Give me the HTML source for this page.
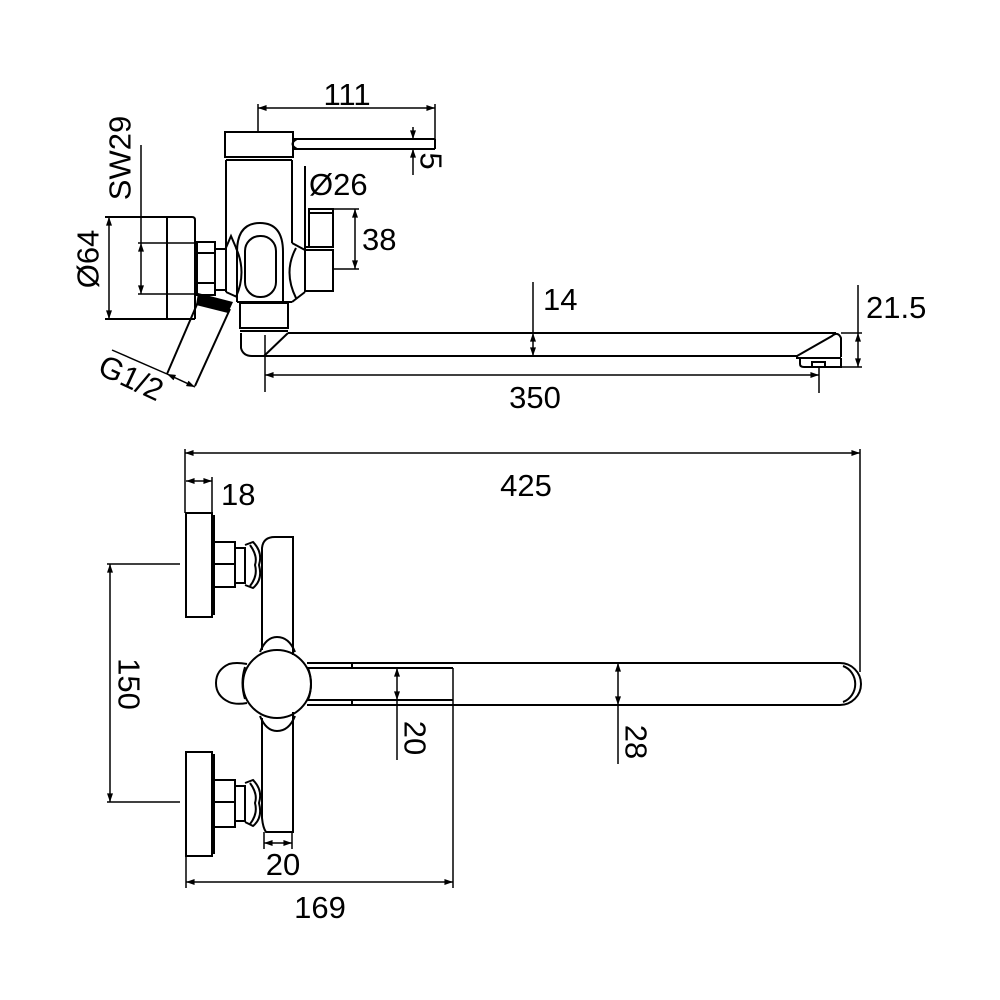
<!DOCTYPE html>
<html><head><meta charset="utf-8"><style>
html,body{margin:0;padding:0;background:#fff;}
svg{display:block;}
text{font-family:"Liberation Sans",Arial,sans-serif;font-size:31px;fill:#000;}
</style></head><body>
<svg width="1000" height="1000" viewBox="0 0 1000 1000" xmlns="http://www.w3.org/2000/svg">
<defs>
<marker id="a" viewBox="0 0 10 7" refX="10" refY="3.5" markerWidth="9" markerHeight="6" markerUnits="userSpaceOnUse" orient="auto-start-reverse">
<path d="M0,0 L10,3.5 L0,7 z" fill="#000"/>
</marker>
</defs>
<rect width="1000" height="1000" fill="#fff"/>

<!-- ============ TOP (SIDE) VIEW ============ -->
<g fill="none" stroke="#000" stroke-width="2">
  <!-- handle cap -->
  <rect x="225" y="132" width="68" height="25"/>
  <line x1="226" y1="160" x2="292" y2="160"/>
  <!-- lever -->
  <line x1="293" y1="139" x2="435" y2="139"/>
  <line x1="293" y1="149" x2="435" y2="149"/>
  <line x1="435" y1="139" x2="435" y2="149"/>
  <path d="M297,139 Q288,144 297,149"/>
  <!-- body -->
  <line x1="226" y1="160" x2="226" y2="248"/>
  <line x1="292" y1="160" x2="292" y2="243"/>
  <!-- oval -->
  <path d="M237,302 L237,252 Q237,223 260,223 Q283,223 283,252 L283,302"/>
  <rect x="245" y="236" width="31" height="61" rx="15"/>
  <line x1="237" y1="302" x2="292" y2="302"/>
  <!-- left ornament -->
  <path d="M225,250 L231,236 L237,250"/>
  <path d="M236,248 Q247,272 236,297"/>
  <line x1="226" y1="250" x2="226" y2="292"/>
  <line x1="226" y1="292" x2="237" y2="297"/>
  <!-- right ornament -->
  <path d="M292,243 L305,250"/>
  <path d="M296,248 Q283,272 296,298"/>
  <line x1="292" y1="302" x2="305" y2="292"/>
  <!-- valve -->
  <line x1="305" y1="166" x2="305" y2="292"/>
  <rect x="309" y="209" width="24" height="38"/>
  <line x1="309" y1="213" x2="333" y2="213"/>
  <rect x="305" y="250" width="28" height="41"/>
  <line x1="305" y1="247" x2="333" y2="247"/>
  <!-- small pieces left -->
  <rect x="215" y="249" width="11" height="41"/>
  <!-- nut -->
  <rect x="197" y="242" width="18" height="53"/>
  <line x1="197" y1="253" x2="215" y2="253"/>
  <line x1="197" y1="283" x2="215" y2="283"/>
  <!-- escutcheon -->
  <line x1="105" y1="217" x2="192" y2="217"/>
  <line x1="105" y1="319" x2="195" y2="319"/>
  <path d="M192,217 Q195,217 195,220 L195,319"/>
  <line x1="167" y1="217" x2="167" y2="319"/>
  <!-- G1/2 pipe -->
  <line x1="198" y1="302" x2="167" y2="374"/>
  <line x1="230" y1="309" x2="195" y2="386"/>
  <!-- outlet -->
  <rect x="240" y="303" width="48" height="25"/>
  <line x1="240" y1="331" x2="288" y2="331"/>
  <path d="M241,333 L241,348 Q243,356 252,356 L265,356"/>
  <line x1="264" y1="356" x2="288" y2="333"/>
  <!-- spout -->
  <line x1="288" y1="333" x2="836" y2="333"/>
  <line x1="264" y1="356" x2="798" y2="356"/>
  <path d="M797,356 L832,336 Q838,331 841,338 L841,357"/>
  <path d="M797,356 L797,358 L841,358"/>
  <path d="M800,358 L800,364 Q800,367 804,367 L841,367 L841,358"/>
  <rect x="812" y="362" width="13" height="5"/>
</g>
<!-- thread -->
<polygon points="198,293 233,302 228,313 196,305" fill="#000"/>

<!-- top view dims -->
<g fill="none" stroke="#000" stroke-width="1.5">
  <line x1="258" y1="104" x2="258" y2="132"/>
  <line x1="435" y1="104" x2="435" y2="139"/>
  <line x1="258" y1="108" x2="435" y2="108" marker-start="url(#a)" marker-end="url(#a)"/>
  <!-- 5 -->
  <line x1="413" y1="127" x2="413" y2="139" marker-end="url(#a)"/>
  <line x1="413" y1="175" x2="413" y2="149" marker-end="url(#a)"/>
  <!-- 38 -->
  <line x1="333" y1="209" x2="359" y2="209"/>
  <line x1="333" y1="269" x2="359" y2="269"/>
  <line x1="355" y1="209" x2="355" y2="269" marker-start="url(#a)" marker-end="url(#a)"/>
  <!-- Ø64 -->
  <line x1="109" y1="217" x2="109" y2="319" marker-start="url(#a)" marker-end="url(#a)"/>
  <!-- SW29 -->
  <line x1="138" y1="243" x2="197" y2="243"/>
  <line x1="138" y1="294" x2="197" y2="294"/>
  <line x1="141" y1="145" x2="141" y2="243"/>
  <line x1="141" y1="243" x2="141" y2="294" marker-start="url(#a)" marker-end="url(#a)"/>
  <!-- G1/2 -->
  <line x1="112" y1="350" x2="167" y2="374"/>
  <line x1="167" y1="374" x2="195" y2="387" marker-start="url(#a)" marker-end="url(#a)"/>
  <!-- 14 -->
  <line x1="533" y1="282" x2="533" y2="333"/>
  <line x1="533" y1="333" x2="533" y2="356" marker-start="url(#a)" marker-end="url(#a)"/>
  <!-- 21.5 -->
  <line x1="841" y1="333" x2="862" y2="333"/>
  <line x1="841" y1="367" x2="862" y2="367"/>
  <line x1="858" y1="285" x2="858" y2="333"/>
  <line x1="858" y1="333" x2="858" y2="367" marker-start="url(#a)" marker-end="url(#a)"/>
  <!-- 350 -->
  <line x1="265" y1="335" x2="265" y2="392"/>
  <line x1="819" y1="367" x2="819" y2="393"/>
  <line x1="265" y1="375" x2="819" y2="375" marker-start="url(#a)" marker-end="url(#a)"/>
</g>

<text x="347" y="105" text-anchor="middle">111</text>
<text transform="translate(431,161) rotate(90)" text-anchor="middle" dominant-baseline="central">5</text>
<text x="309" y="195">Ø26</text>
<text x="362" y="250">38</text>
<text x="543" y="310">14</text>
<text x="866" y="318">21.5</text>
<text x="535" y="408" text-anchor="middle">350</text>
<text transform="translate(120,158) rotate(-90)" text-anchor="middle" dominant-baseline="central">SW29</text>
<text transform="translate(88,259) rotate(-90)" text-anchor="middle" dominant-baseline="central">Ø64</text>
<text transform="translate(131,378) rotate(25)" text-anchor="middle" dominant-baseline="central">G1/2</text>

<!-- ============ BOTTOM (PLAN) VIEW ============ -->
<g fill="none" stroke="#000" stroke-width="2">
  <!-- top flange -->
  <rect x="186" y="513" width="26" height="104"/>
  <line x1="214" y1="515" x2="214" y2="615"/>
  <rect x="214" y="542" width="21" height="45"/>
  <line x1="214" y1="564" x2="235" y2="564"/>
  <rect x="235" y="548" width="10" height="35"/>
  <path d="M245,545 L253,542 Q263,552 259,565 Q263,580 253,588 L245,585"/>
  <path d="M250,545 Q258,556 255,565 Q258,576 250,586"/>
  <!-- bottom flange -->
  <rect x="186" y="752" width="26" height="104"/>
  <line x1="214" y1="754" x2="214" y2="854"/>
  <rect x="214" y="780" width="21" height="47"/>
  <line x1="214" y1="802" x2="235" y2="802"/>
  <rect x="235" y="786" width="10" height="35"/>
  <path d="M245,783 L253,780 Q263,790 259,803 Q263,818 253,826 L245,822"/>
  <path d="M250,783 Q258,794 255,803 Q258,814 250,824"/>
  <!-- body -->
  <path d="M262,650 L262,548 Q263,537 275,537 L293,537 L293,655"/>
  <path d="M262,718 L262,818 Q263,828 266,832 L293,832 L293,712"/>
  <!-- hub lobes -->
  <path d="M260,652 Q266,637 277,637 Q289,637 295,652"/>
  <path d="M260,716 Q266,731 277,731 Q289,731 295,716"/>
  <path d="M247,664 Q236,662 229,664 Q216,670 216,683 Q216,696 229,702 Q236,705 247,703"/>
  <path d="M245,667 Q240,683 245,699"/>
  <circle cx="277" cy="684" r="34"/>
  <path d="M308,668 Q314,684 308,700"/>
  <!-- spout -->
  <line x1="307" y1="663" x2="840" y2="663"/>
  <line x1="307" y1="705" x2="840" y2="705"/>
  <path d="M840,663 A21,21 0 0 1 840,705"/>
  <path d="M843,666 A18,19 0 0 1 843,702"/>
  <line x1="307" y1="668" x2="453" y2="668"/>
  <line x1="307" y1="700" x2="453" y2="700"/>
  <line x1="352" y1="663" x2="352" y2="668"/>
  <line x1="352" y1="700" x2="352" y2="705"/>
</g>

<g fill="none" stroke="#000" stroke-width="1.5">
  <!-- 425 -->
  <line x1="185" y1="449" x2="185" y2="513"/>
  <line x1="860" y1="449" x2="860" y2="672"/>
  <line x1="185" y1="453" x2="860" y2="453" marker-start="url(#a)" marker-end="url(#a)"/>
  <!-- 18 -->
  <line x1="212" y1="477" x2="212" y2="513"/>
  <line x1="186" y1="481" x2="212" y2="481" marker-start="url(#a)" marker-end="url(#a)"/>
  <!-- 150 -->
  <line x1="107" y1="564" x2="180" y2="564"/>
  <line x1="107" y1="802" x2="180" y2="802"/>
  <line x1="110" y1="564" x2="110" y2="802" marker-start="url(#a)" marker-end="url(#a)"/>
  <!-- 20 right -->
  <line x1="397" y1="668" x2="397" y2="700" marker-start="url(#a)" marker-end="url(#a)"/>
  <line x1="397" y1="700" x2="397" y2="760"/>
  <!-- 28 -->
  <line x1="618" y1="663" x2="618" y2="705" marker-start="url(#a)" marker-end="url(#a)"/>
  <line x1="618" y1="705" x2="618" y2="764"/>
  <!-- 20 bottom -->
  <line x1="264" y1="832" x2="264" y2="849"/>
  <line x1="292" y1="832" x2="292" y2="849"/>
  <line x1="264" y1="843" x2="292" y2="843" marker-start="url(#a)" marker-end="url(#a)"/>
  <!-- 169 -->
  <line x1="186" y1="856" x2="186" y2="888"/>
  <line x1="453" y1="668" x2="453" y2="888"/>
  <line x1="186" y1="882" x2="453" y2="882" marker-start="url(#a)" marker-end="url(#a)"/>
</g>

<text x="526" y="496" text-anchor="middle">425</text>
<text x="221" y="505">18</text>
<text transform="translate(129,684) rotate(90)" text-anchor="middle" dominant-baseline="central">150</text>
<text transform="translate(415,738) rotate(90)" text-anchor="middle" dominant-baseline="central">20</text>
<text transform="translate(636,742) rotate(90)" text-anchor="middle" dominant-baseline="central">28</text>
<text x="283" y="875" text-anchor="middle">20</text>
<text x="320" y="918" text-anchor="middle">169</text>
</svg>
</body></html>
